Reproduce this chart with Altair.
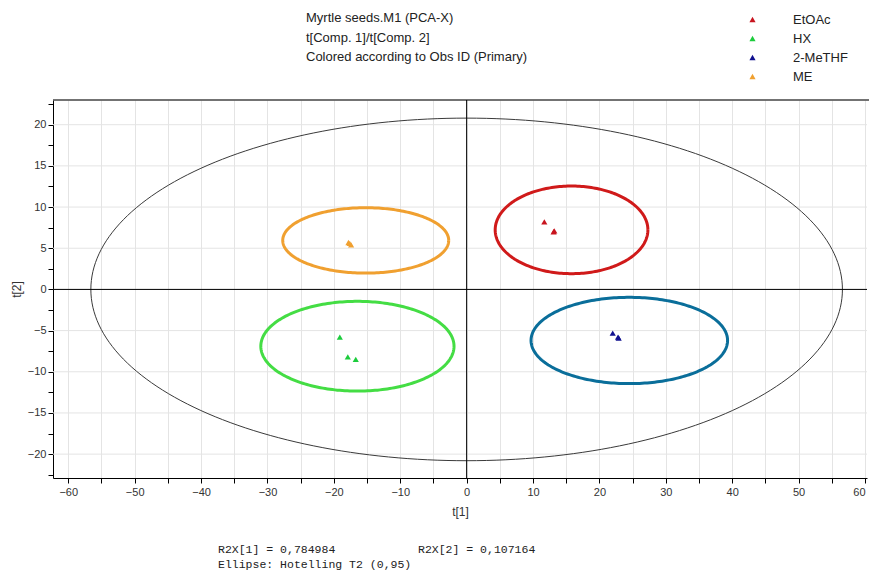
import altair as alt
import numpy as np
import pandas as pd

# ---- data ----
groups = ["EtOAc", "HX", "2-MeTHF", "ME"]
marker_colors = ["#c8141e", "#1ccc3c", "#10108f", "#f0a030"]

pt_group = ["EtOAc", "EtOAc", "EtOAc",
            "HX", "HX", "HX",
            "2-MeTHF", "2-MeTHF", "2-MeTHF",
            "ME", "ME", "ME"]
pt_t1 = [11.7, 13.1, 13.2, -19.1, -17.9, -16.7, 22.0, 22.8, 22.9, -17.8, -17.4, -17.6]
pt_t2 = [8.2, 7.0, 7.1, -5.8, -8.2, -8.5, -5.3, -5.8, -5.9, 5.7, 5.4, 5.6]

ell_names = ["Hotelling", "EtOAc", "HX", "2-MeTHF", "ME"]
ell_cx = [0.0, 15.8, -16.45, 24.5, -15.2]
ell_cy = [0.0, 7.23, -6.9, -6.2, 5.95]
ell_rx = [56.6, 11.5, 14.55, 14.8, 12.5]
ell_ry = [20.8, 5.32, 5.45, 5.24, 3.97]
ell_colors = ["#3a3a3a", "#d01a1a", "#44dd44", "#0a6e9a", "#f0a030"]
ell_widths = [1.0, 3.0, 3.0, 3.0, 3.0]

x_ticks = list(range(-60, 61, 5))
y_ticks = [v / 2 for v in range(-45, 46, 5)]
y_grid = list(range(-20, 21, 5))

title_lines = ["Myrtle  seeds.M1 (PCA-X)",
               "t[Comp. 1]/t[Comp. 2]",
               "Colored according to Obs ID (Primary)"]
footer_line1_left = "R2X[1] = 0,784984"
footer_line1_right = "R2X[2] = 0,107164"
footer_line2 = "Ellipse: Hotelling T2 (0,95)"

X_DOMAIN = [-62.3, 60.3]
Y_DOMAIN = [-22.9, 23.0]
W, H = 814, 378

# ---- build tables ----
pts = pd.DataFrame({"group": pt_group, "t1": pt_t1, "t2": pt_t2})

rows = []
theta = np.linspace(0, 2 * np.pi, 241)
for name, cx, cy, rx, ry, col, sw in zip(ell_names, ell_cx, ell_cy, ell_rx, ell_ry, ell_colors, ell_widths):
    for i, th in enumerate(theta):
        rows.append({"ell": name, "i": i, "t1": cx + rx * np.cos(th),
                     "t2": cy + ry * np.sin(th), "col": col, "sw": sw})
ell = pd.DataFrame(rows)

xs = alt.Scale(domain=X_DOMAIN, nice=False, zero=False)
ys = alt.Scale(domain=Y_DOMAIN, nice=False, zero=False)

x_axis = alt.Axis(values=x_ticks, title="t[1]",
                  labelExpr="datum.value % 10 === 0 ? format(datum.value, 'd') : ''",
                  labelAlign={"expr": "datum.value >= 60 ? 'right' : 'center'"},
                  grid=True, gridColor="#e4e4e4", domainColor="#000", tickColor="#000",
                  tickSize=5, labelPadding=3, labelFontSize=11, labelColor="#333",
                  labelFont="Liberation Sans", titleFont="Liberation Sans",
                  titleFontSize=12, titleFontWeight="normal", titleColor="#333",
                  titlePadding=9, labelFlush=False, labelOverlap=False)
y_axis = alt.Axis(values=y_ticks, title="t[2]",
                  labelExpr="datum.value % 5 === 0 ? format(datum.value, 'd') : ''",
                  grid=False, domainColor="#000", tickColor="#000",
                  tickSize=5, labelPadding=2, labelFontSize=11, labelColor="#333",
                  labelFont="Liberation Sans", titleFont="Liberation Sans",
                  titleFontSize=12, titleFontWeight="normal", titleColor="#333",
                  titlePadding=4, labelOverlap=False)

ygrid = alt.Chart(pd.DataFrame({"g": y_grid})).mark_rule(color="#e4e4e4", strokeWidth=1).encode(
    y=alt.Y("g:Q", scale=ys, axis=y_axis))

top_line = alt.Chart(pd.DataFrame({"v": [Y_DOMAIN[1]]})).mark_rule(color="#444", strokeWidth=1.5).encode(
    y=alt.Y("v:Q", scale=ys, axis=y_axis), x=alt.value(0), x2=alt.value(W + 2))

zero_x = alt.Chart(pd.DataFrame({"v": [0]})).mark_rule(color="#000", strokeWidth=1).encode(
    x=alt.X("v:Q", scale=xs, axis=x_axis))
zero_y = alt.Chart(pd.DataFrame({"v": [0]})).mark_rule(color="#000", strokeWidth=1).encode(
    y=alt.Y("v:Q", scale=ys, axis=y_axis))

ellipses = alt.Chart(ell).mark_line().encode(
    x=alt.X("t1:Q", scale=xs, axis=x_axis),
    y=alt.Y("t2:Q", scale=ys, axis=y_axis),
    detail="ell:N",
    order="i:Q",
    color=alt.Color("col:N", scale=None),
    strokeWidth=alt.StrokeWidth("sw:Q", scale=None),
)

points = alt.Chart(pts).mark_point(shape="triangle-up", filled=True, size=38, opacity=1).encode(
    x=alt.X("t1:Q", scale=xs, axis=x_axis),
    y=alt.Y("t2:Q", scale=ys, axis=y_axis),
    color=alt.Color("group:N", scale=alt.Scale(domain=groups, range=marker_colors),
                    legend=alt.Legend(title=None, orient="none", legendX=693, legendY=-87,
                                      symbolType="triangle-up", symbolSize=38,
                                      labelFont="Liberation Sans", labelFontSize=13,
                                      labelColor="#222", labelOffset=34, rowPadding=5,
                                      padding=0, symbolStrokeWidth=0)),
)

one = pd.DataFrame({"k": [0]})
title_text = alt.Chart(one).mark_text(
    text=title_lines, align="left", baseline="middle", lineHeight=19.5,
    font="Liberation Sans", fontSize=13, color="#222").encode(
    x=alt.value(253), y=alt.value(-82))

foot_a = alt.Chart(one).mark_text(
    text=footer_line1_left, align="left", baseline="middle",
    font="Liberation Mono", fontSize=11.5, color="#222").encode(
    x=alt.value(165), y=alt.value(450))
foot_b = alt.Chart(one).mark_text(
    text=footer_line1_right, align="left", baseline="middle",
    font="Liberation Mono", fontSize=11.5, color="#222").encode(
    x=alt.value(365), y=alt.value(450))
foot_c = alt.Chart(one).mark_text(
    text=footer_line2, align="left", baseline="middle",
    font="Liberation Mono", fontSize=11.5, color="#222").encode(
    x=alt.value(165), y=alt.value(465))

chart = alt.layer(ygrid, top_line, ellipses, zero_x, zero_y, points,
                  title_text, foot_a, foot_b, foot_c).properties(
    width=W, height=H,
    autosize=alt.AutoSizeParams(type="none"),
    padding={"left": 45, "top": 92, "right": 2, "bottom": 100},
).configure_view(stroke=None)

chart.save("out.html", embed_options={"renderer": "svg", "actions": False})
